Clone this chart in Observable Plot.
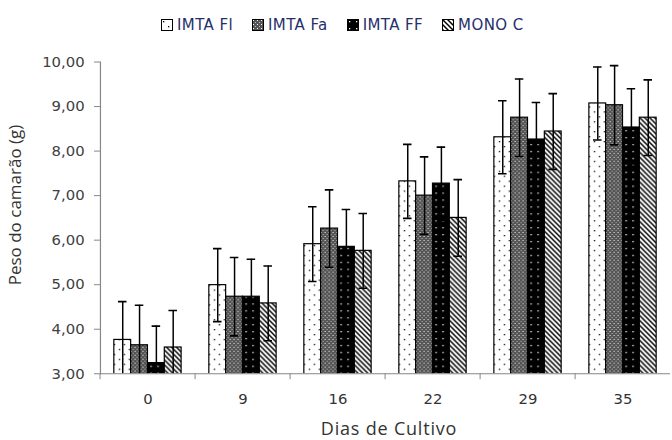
<!DOCTYPE html>
<html><head><meta charset="utf-8">
<script src="https://cdn.jsdelivr.net/npm/d3@7"></script>
<script src="https://cdn.jsdelivr.net/npm/@observablehq/plot@0.6"></script>
<style>
html,body{margin:0;padding:0;background:#fff;overflow:hidden;}
#wrap{position:relative;width:672px;height:440px;overflow:hidden;background:#fff;}
#legend{position:absolute;left:161px;top:16px;display:flex;gap:19px;align-items:center;}
.item{display:flex;align-items:center;font:15px "DejaVu Sans";letter-spacing:0.4px;color:#26306b;white-space:nowrap;}
.item svg{margin-right:4px;}
#chart{position:absolute;left:0;top:45px;}
.title{position:absolute;white-space:nowrap;font:17px "Open Sans";line-height:1;color:#333;transform:translate(-50%,-50%);}
#ytitle{transform:translate(-50%,-50%) rotate(-90deg);}
#xtitle{font-size:18px;letter-spacing:0.8px;}
</style>
</head><body>
<svg width="0" height="0" style="position:absolute">
 <defs>
  <pattern id="pFl" width="10" height="10" patternUnits="userSpaceOnUse">
   <rect width="10" height="10" fill="#fff"/>
   <rect x="2" y="2" width="1.3" height="1.3" fill="#000"/>
   <rect x="7" y="7" width="1.3" height="1.3" fill="#000"/>
  </pattern>
  <pattern id="pFa" width="4" height="4" patternUnits="userSpaceOnUse">
   <rect width="4" height="4" fill="#555"/>
   <rect x="1" y="1" width="1" height="1" fill="#fff"/>
   <rect x="3" y="3" width="1" height="1" fill="#bbb"/>
  </pattern>
  <pattern id="pFF" width="7" height="7" patternUnits="userSpaceOnUse">
   <rect width="7" height="7" fill="#000"/>
   <rect x="2" y="2" width="1.3" height="1.3" fill="#fff"/>
  </pattern>
  <pattern id="pMono" width="5" height="5" patternUnits="userSpaceOnUse">
   <rect width="5" height="5" fill="#fff"/>
   <path d="M-1,-1L6,6M-1,4L1,6M4,-1L6,1" stroke="#000" stroke-width="1.5"/>
  </pattern>
 </defs>
</svg>
<div id="wrap">
 <div id="legend"></div>
 <div id="chart"></div>
 <div class="title" id="ytitle" style="left:14px;top:205px">Peso do camarão (g)</div>
 <div class="title" id="xtitle" style="left:389px;top:427.5px">Dias de Cultivo</div>
</div>
<script>
// ---- data ----
const days = ["0", "9", "16", "22", "29", "35"];
const series = ["IMTA Fl", "IMTA Fa", "IMTA FF", "MONO C"];
const meanFl = [3.76, 4.99, 5.91, 7.32, 8.31, 9.07];
const errFl  = [0.86, 0.82, 0.84, 0.83, 0.82, 0.82];
const meanFa = [3.64, 4.73, 6.26, 7.00, 8.75, 9.03];
const errFa  = [0.90, 0.88, 0.87, 0.87, 0.87, 0.89];
const meanFF = [3.24, 4.73, 5.85, 7.27, 8.26, 8.53];
const errFF  = [0.83, 0.84, 0.84, 0.82, 0.83, 0.87];
const meanMono = [3.59, 4.58, 5.76, 6.50, 8.44, 8.75];
const errMono  = [0.83, 0.84, 0.84, 0.86, 0.85, 0.85];
const yTicks = [3, 4, 5, 6, 7, 8, 9, 10];
const patterns = ["url(#pFl)", "url(#pFa)", "url(#pFF)", "url(#pMono)"];

const means = [meanFl, meanFa, meanFF, meanMono];
const errs = [errFl, errFa, errFF, errMono];
const rows = [];
days.forEach((d, i) => series.forEach((s, j) => rows.push({day: d, series: s, value: means[j][i], err: errs[j][i]})));

const fmt = v => v.toFixed(2).replace(".", ",");
const axisGrey = "#868686";

const plot = Plot.plot({
  width: 679, height: 395,
  marginLeft: 98, marginRight: 0, marginTop: 16.7, marginBottom: 63.3,
  style: {fontFamily: "DejaVu Sans", fontSize: "15px", background: "transparent", overflow: "visible"},
  fx: {domain: days, padding: 0, label: null},
  x: {domain: series, paddingInner: 0, paddingOuter: 0.74, axis: null},
  y: {domain: [yTicks[0], yTicks[yTicks.length - 1]], axis: null},
  color: {domain: series, range: patterns},
  marks: [
    Plot.barY(rows, {fx: "day", x: "series", y: "value", fill: "series", stroke: "#000", strokeWidth: 1.2, clip: true}),
    Plot.ruleX(rows, {fx: "day", x: "series", y1: d => d.value - d.err, y2: d => d.value + d.err, stroke: "#000", strokeWidth: 1.5, clip: true}),
    Plot.tickY(rows, {fx: "day", x: "series", y: d => d.value + d.err, inset: 4.2, stroke: "#000", strokeWidth: 1.6, clip: true}),
    Plot.tickY(rows, {fx: "day", x: "series", y: d => d.value - d.err, inset: 4.2, stroke: "#000", strokeWidth: 1.6, clip: true}),
    Plot.ruleY([yTicks[0]], {stroke: axisGrey, strokeWidth: 1.2}),
    Plot.frame({anchor: "left", facetAnchor: "left", stroke: axisGrey, strokeWidth: 1.2}),
    Plot.axisY({ticks: yTicks, tickFormat: fmt, tickSize: 6, tickPadding: 10, stroke: axisGrey, fill: "#404040", label: null}),
    Plot.axisFx({anchor: "bottom", tickSize: 6, tickFormat: () => "", dx: -48.4, stroke: axisGrey, label: null}),
    Plot.axisFx({anchor: "bottom", tickSize: 0, tickPadding: 20, fill: "#333", label: null})
  ]
});
document.getElementById("chart").appendChild(plot);

// legend
const legend = d3.select("#legend");
series.forEach((s, j) => {
  const it = legend.append("div").attr("class", "item");
  const sv = it.append("svg").attr("width", 12).attr("height", 12);
  sv.append("rect").attr("x", 0.5).attr("y", 0.5).attr("width", 11).attr("height", 11)
    .attr("fill", patterns[j]).attr("stroke", "#000").attr("stroke-width", 1);
  it.append("span").text(s);
});
</script>
</body></html>
